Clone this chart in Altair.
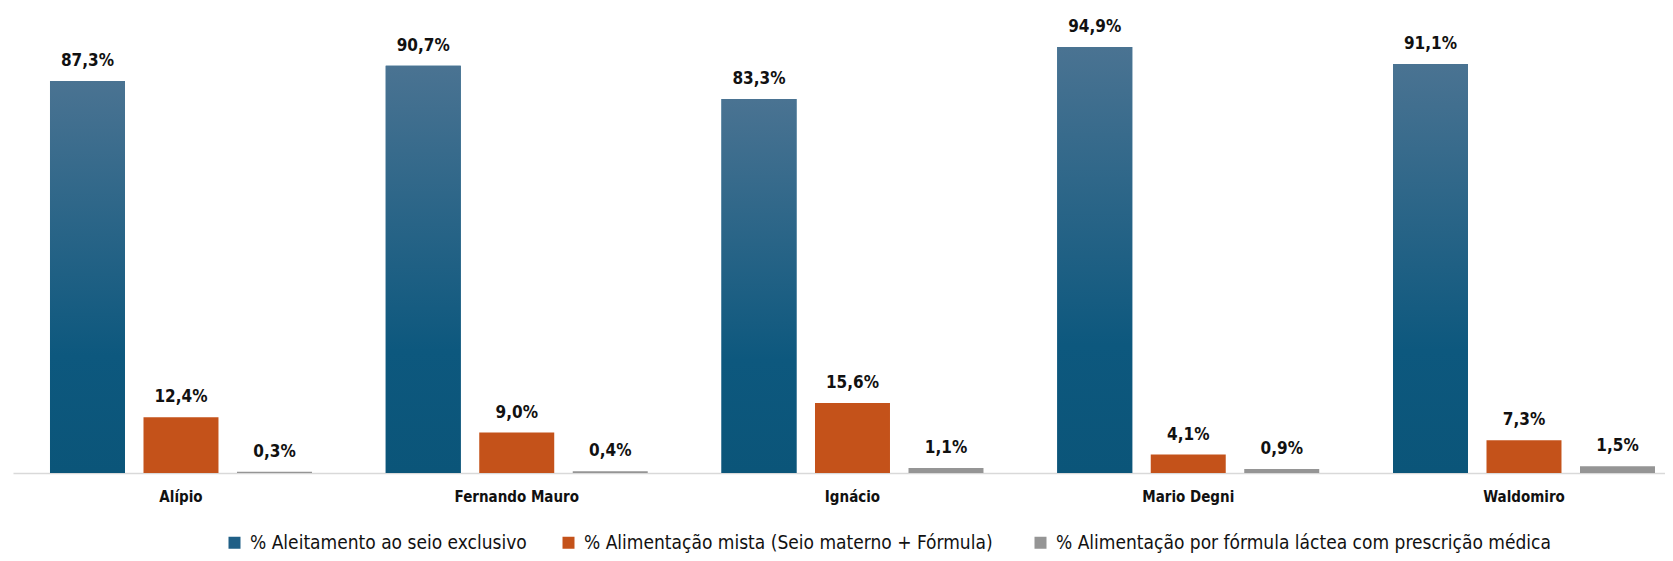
import altair as alt
import pandas as pd

categories = ["Alípio", "Fernando Mauro", "Ignácio", "Mario Degni", "Waldomiro"]
series = [
    "% Aleitamento ao seio exclusivo",
    "% Alimentação  mista (Seio materno + Fórmula)",
    "% Alimentação por fórmula láctea com prescrição médica",
]
exclusivo = [87.3, 90.7, 83.3, 94.9, 91.1]
mista = [12.4, 9.0, 15.6, 4.1, 7.3]
formula = [0.3, 0.4, 1.1, 0.9, 1.5]
colors = ["#1f5f86", "#c4521a", "#959595"]

rows = []
for i, c in enumerate(categories):
    for s, vals in zip(series, [exclusivo, mista, formula]):
        v = vals[i]
        rows.append({"cat": c, "serie": s, "v": v,
                     "lbl": f"{v:.1f}%".replace(".", ",")})
df = pd.DataFrame(rows)

FONT = "DejaVu Sans Condensed, Roboto, sans-serif"

x = alt.X("cat:N", sort=categories, title=None,
          scale=alt.Scale(paddingInner=0.2197, paddingOuter=0.07, align=0.787),
          axis=alt.Axis(labelAngle=0, ticks=False, domainColor="#d9d9d9",
                        domainWidth=1.5, labelFont=FONT, labelFontSize=15,
                        labelFontWeight="bold", labelColor="#111111",
                        labelPadding=16))
xo = alt.XOffset("serie:N", sort=series,
                 scale=alt.Scale(domain=series, paddingInner=0.198, paddingOuter=0))
y = alt.Y("v:Q", title=None, axis=None, scale=alt.Scale(domain=[0, 100], nice=False))

base = alt.Chart(df).encode(x=x, xOffset=xo, y=y)

bars = base.mark_bar().encode(
    color=alt.Color("serie:N", sort=series, title=None,
                    scale=alt.Scale(domain=series, range=colors),
                    legend=alt.Legend(orient="none", direction="horizontal",
                                      legendX=212, legendY=509,
                                      symbolType="square", symbolSize=144,
                                      symbolStrokeWidth=0, labelOffset=6,
                                      labelFont=FONT, labelFontSize=19,
                                      labelColor="#111111", columnPadding=32,
                                      labelLimit=800))
)

grad = base.transform_filter(alt.datum.serie == series[0]).mark_bar(
    color=alt.Gradient(gradient="linear", x1=0, y1=0, x2=0, y2=1,
                       stops=[alt.GradientStop(color="#4a7392", offset=0),
                              alt.GradientStop(color="#0d587e", offset=0.7),
                              alt.GradientStop(color="#0b5579", offset=1)])
)

text = base.mark_text(baseline="alphabetic", dy=-15, font=FONT, fontSize=17,
                      fontWeight="bold", color="#111111").encode(text="lbl:N")

chart = alt.layer(bars, grad, text).properties(
    width=1652, height=449,
    autosize=alt.AutoSizeParams(type="none"),
    padding={"left": 5, "top": 16, "right": 0, "bottom": 80},
).configure_view(stroke=None)

chart.save("out.html", embed_options={"renderer": "svg", "actions": False})
